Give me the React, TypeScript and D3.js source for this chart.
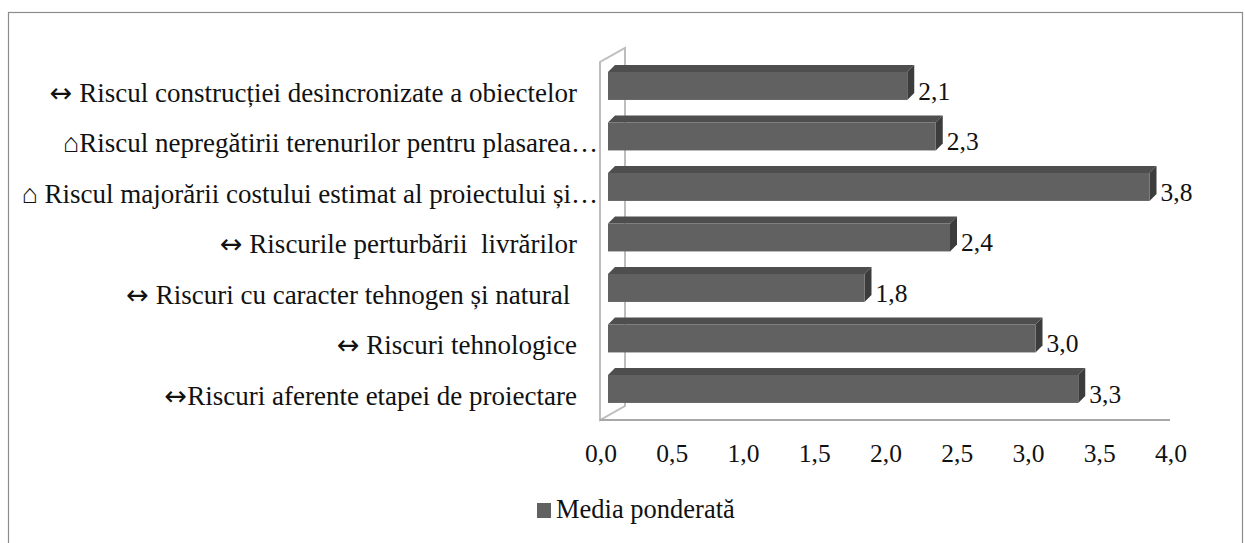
import React, { useEffect, useRef } from "react";
import * as d3 from "d3";

const categories = [
  "↔ Riscul construcției desincronizate a obiectelor",
  "⌂Riscul nepregătirii terenurilor pentru plasarea…",
  "⌂ Riscul majorării costului estimat al proiectului și…",
  "↔ Riscurile perturbării  livrărilor",
  "↔ Riscuri cu caracter tehnogen și natural ",
  "↔ Riscuri tehnologice",
  "↔Riscuri aferente etapei de proiectare",
];
const values = [2.1, 2.3, 3.8, 2.4, 1.8, 3.0, 3.3];
const ticks = [0, 0.5, 1, 1.5, 2, 2.5, 3, 3.5, 4];
const seriesName = "Media ponderată";

const W = 1245;
const H = 543;
const FONT = "Liberation Serif, serif";

export default function App() {
  const ref = useRef<SVGSVGElement>(null);

  useEffect(() => {
    const svg = d3.select(ref.current);
    svg.selectAll("*").remove();

    const x = d3.scaleLinear().domain([0, 4]).range([600, 1170]);
    const y = d3.scaleBand().domain(categories)
      .range([60.7, 414.2]).paddingInner(0.446).paddingOuter(0.223);
    const dx = 7, dy = 7; // bar depth
    const wx = 25, wy = 14; // wall depth

    // outer frame
    svg.append("rect")
      .attr("x", 8.5).attr("y", 12.5)
      .attr("width", 1234).attr("height", 560)
      .attr("fill", "none").attr("stroke", "#8c8c8c").attr("stroke-width", 1.2);

    // side wall
    svg.append("path")
      .attr("d", `M${x(0)},420 L${x(0)},62 L${x(0) + wx},${62 - wy} L${x(0) + wx},${420 - wy} Z`)
      .attr("fill", "none").attr("stroke", "#bdbdbd").attr("stroke-width", 2);
    // floor line
    svg.append("line")
      .attr("x1", x(0)).attr("x2", x(4))
      .attr("y1", 420).attr("y2", 420)
      .attr("stroke", "#a8a8a8").attr("stroke-width", 2);

    // bars
    const bars = svg.append("g").selectAll("g").data(values).join("g");
    bars.each(function (v, i) {
      const g = d3.select(this);
      const x0 = x(0) + 8;
      const x1 = x(v) + 8;
      const yt = y(categories[i])!;
      const h = y.bandwidth();
      g.append("path")
        .attr("d", `M${x0},${yt} L${x0 + dx},${yt - dy} L${x1 + dx},${yt - dy} L${x1},${yt} Z`)
        .attr("fill", "#4e4e4e");
      g.append("path")
        .attr("d", `M${x1},${yt} L${x1 + dx},${yt - dy} L${x1 + dx},${yt + h - dy} L${x1},${yt + h} Z`)
        .attr("fill", "#3c3c3c");
      g.append("rect")
        .attr("x", x0).attr("y", yt)
        .attr("width", x1 - x0).attr("height", h)
        .attr("fill", "#616161");
      g.append("text")
        .attr("x", x1 + 11).attr("y", yt + h)
        .style("font-family", FONT).style("font-size", "25.5px").attr("fill", "#111")
        .text(d3.format(".1f")(v).replace(".", ","));
    });

    // category labels (arrow glyph drawn with a wider font, as in the original)
    const labels = svg.append("g").selectAll("text").data(categories).join("text")
      .attr("x", (d) => (d.endsWith("…") ? 598 : 577))
      .attr("y", (d) => y(d)! + y.bandwidth() + 2)
      .attr("text-anchor", "end")
      .style("font-family", FONT).style("font-size", "27px").attr("fill", "#111")
      .style("white-space", "pre");
    labels.each(function (d) {
      const t = d3.select(this);
      if (d.startsWith("↔")) {
        t.append("tspan").style("font-family", "DejaVu Sans").text("↔");
        t.append("tspan").text(d.slice(1));
      } else {
        t.text(d);
      }
    });

    // x tick labels
    svg.append("g").selectAll("text").data(ticks).join("text")
      .attr("x", (d) => x(d) + 1)
      .attr("y", 462)
      .attr("text-anchor", "middle")
      .style("font-family", FONT).style("font-size", "25.5px").attr("fill", "#111")
      .text((d) => d3.format(".1f")(d).replace(".", ","));

    // legend
    svg.append("rect")
      .attr("x", 537).attr("y", 503).attr("width", 14).attr("height", 15)
      .attr("fill", "#616161");
    svg.append("text")
      .attr("x", 556).attr("y", 518)
      .style("font-family", FONT).style("font-size", "26.5px").attr("fill", "#111")
      .text(seriesName);
  }, []);

  return (
    <svg
      ref={ref}
      width={W}
      height={H}
      style={{ position: "absolute", left: 0, top: 0, background: "#fff" }}
    />
  );
}
